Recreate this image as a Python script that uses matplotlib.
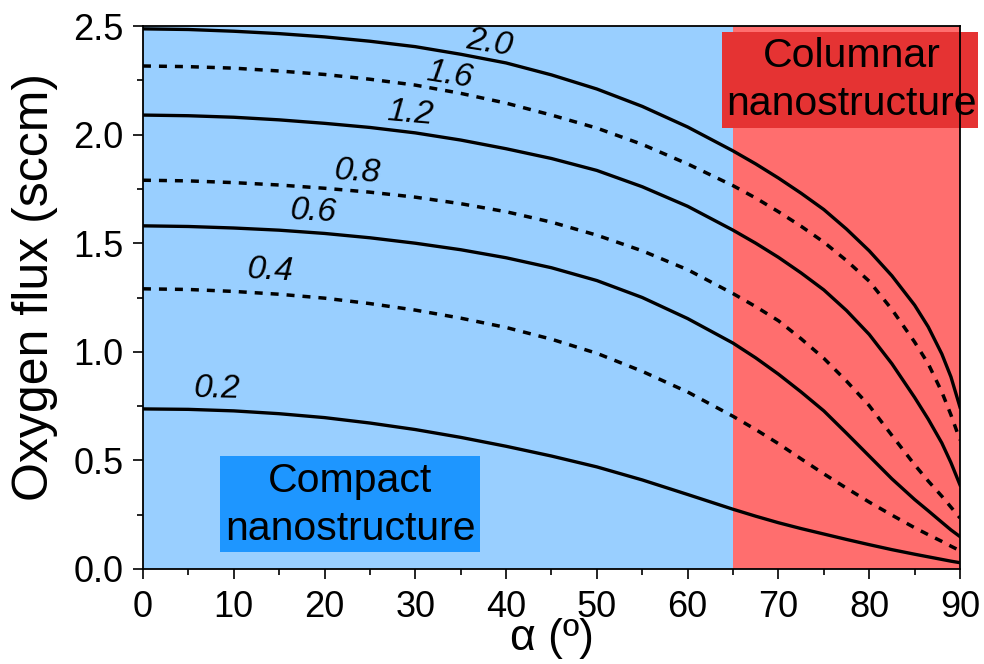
import numpy as np
import matplotlib
matplotlib.use("Agg")
import matplotlib.pyplot as plt
from matplotlib.patches import Rectangle
from matplotlib.ticker import MultipleLocator, FormatStrFormatter

plt.rcParams['font.family'] = ['Liberation Sans', 'DejaVu Sans']

# angle alpha (deg) at which the curves were read
alpha = [0, 5, 10, 15, 20, 25, 30, 35, 40, 45, 50, 55, 60, 65, 67.5, 70,
         72.5, 75, 77.5, 80, 82.5, 85, 86.5, 88, 89, 90]

# oxygen flux (sccm) for each curve label
flux_20 = [2.487, 2.484, 2.476, 2.465, 2.45, 2.43, 2.405, 2.37, 2.33, 2.275, 2.21, 2.13, 2.035,
           1.925, 1.865, 1.80, 1.73, 1.655, 1.565, 1.465, 1.35, 1.215, 1.115, 0.99, 0.885, 0.745]
flux_16 = [2.316, 2.313, 2.306, 2.293, 2.277, 2.255, 2.228, 2.19, 2.145, 2.09, 2.03, 1.955, 1.865,
           1.765, 1.708, 1.645, 1.578, 1.505, 1.42, 1.325, 1.195, 1.045, 0.945, 0.815, 0.71, 0.594]
flux_12 = [2.09, 2.087, 2.08, 2.068, 2.052, 2.033, 2.008, 1.975, 1.935, 1.89, 1.835, 1.76, 1.67,
           1.56, 1.50, 1.435, 1.363, 1.285, 1.19, 1.08, 0.945, 0.79, 0.69, 0.58, 0.49, 0.387]
flux_08 = [1.79, 1.787, 1.779, 1.768, 1.753, 1.735, 1.712, 1.682, 1.645, 1.597, 1.537, 1.465, 1.378,
           1.268, 1.208, 1.143, 1.06, 0.97, 0.865, 0.752, 0.615, 0.48, 0.405, 0.335, 0.285, 0.235]
flux_06 = [1.58, 1.577, 1.57, 1.56, 1.545, 1.525, 1.50, 1.47, 1.433, 1.387, 1.328, 1.25, 1.153,
           1.04, 0.972, 0.897, 0.815, 0.728, 0.625, 0.52, 0.415, 0.32, 0.268, 0.215, 0.18, 0.149]
flux_04 = [1.29, 1.287, 1.278, 1.265, 1.247, 1.222, 1.192, 1.155, 1.112, 1.058, 0.993, 0.91, 0.815,
           0.703, 0.642, 0.577, 0.507, 0.438, 0.372, 0.308, 0.248, 0.19, 0.158, 0.127, 0.105, 0.084]
flux_02 = [0.737, 0.735, 0.728, 0.715, 0.697, 0.672, 0.642, 0.606, 0.565, 0.52, 0.47, 0.41, 0.343,
           0.275, 0.243, 0.213, 0.186, 0.161, 0.136, 0.112, 0.089, 0.068, 0.056, 0.044, 0.036, 0.029]

curves = [flux_20, flux_16, flux_12, flux_08, flux_06, flux_04, flux_02]
labels = ['2.0', '1.6', '1.2', '0.8', '0.6', '0.4', '0.2']
dotted = [False, True, False, True, False, True, False]
# label positions (alpha, flux) and rotation
label_x = [38.2, 33.8, 29.4, 23.6, 18.8, 14.0, 8.1]
label_y = [2.42, 2.275, 2.095, 1.828, 1.645, 1.372, 0.83]
label_rot = [-9, -9, -5, -4, -3, -3, -1]

fig = plt.figure(figsize=(9.84, 6.64), dpi=100)
ax = fig.add_axes([0.1453, 0.1431, 0.8303, 0.8177])

ax.axvspan(0, 65, color='#99CFFF', lw=0, zorder=0)
ax.axvspan(65, 90, color='#FF6E6E', lw=0, zorder=0)

for ys, dt in zip(curves, dotted):
    if dt:
        ax.plot(alpha, ys, color='black', lw=2.5, linestyle=(0, (2.3, 2.3)),
                dash_capstyle='butt', zorder=3)
    else:
        ax.plot(alpha, ys, color='black', lw=2.4, solid_joinstyle='round', zorder=3)

for t, lx, ly, r in zip(labels, label_x, label_y, label_rot):
    ax.text(lx, ly, t, fontsize=24, style='italic', rotation=r,
            ha='center', va='center', rotation_mode='anchor', zorder=4)

# region boxes
ax.add_patch(Rectangle((63.8, 2.03), 28.2, 0.442, facecolor='#E53333',
                       edgecolor='none', clip_on=False, zorder=5))
ax.text(78.05, 2.25, 'Columnar\nnanostructure', fontsize=29.5, ha='center',
        va='center', linespacing=1.33, zorder=6)
ax.add_patch(Rectangle((8.48, 0.078), 28.6, 0.442, facecolor='#1E96FF',
                       edgecolor='none', clip_on=False, zorder=5))
ax.text(22.86, 0.295, 'Compact\nnanostructure', fontsize=29.5, ha='center',
        va='center', linespacing=1.33, zorder=6)

ax.set_xlim(0, 90)
ax.set_ylim(0, 2.5)
ax.xaxis.set_major_locator(MultipleLocator(10))
ax.xaxis.set_minor_locator(MultipleLocator(5))
ax.yaxis.set_major_locator(MultipleLocator(0.5))
ax.yaxis.set_minor_locator(MultipleLocator(0.25))
ax.yaxis.set_major_formatter(FormatStrFormatter('%.1f'))

ax.tick_params(which='major', direction='out', length=7, width=1.2, labelsize=26)
ax.tick_params(axis='y', which='major', pad=7)
ax.tick_params(axis='x', which='major', pad=8)
ax.tick_params(which='minor', direction='out', length=4, width=1.2)
for s in ax.spines.values():
    s.set_linewidth(1.3)
    s.set_zorder(7)

ax.set_xlabel('α (º)', fontsize=32)
ax.xaxis.set_label_coords(0.5, -0.09)
ax.xaxis.label.set_va('top')
ax.set_ylabel('Oxygen flux (sccm)', fontsize=36)
ax.yaxis.set_label_coords(-0.104, 0.52)

fig.savefig('out.png', dpi=100)
